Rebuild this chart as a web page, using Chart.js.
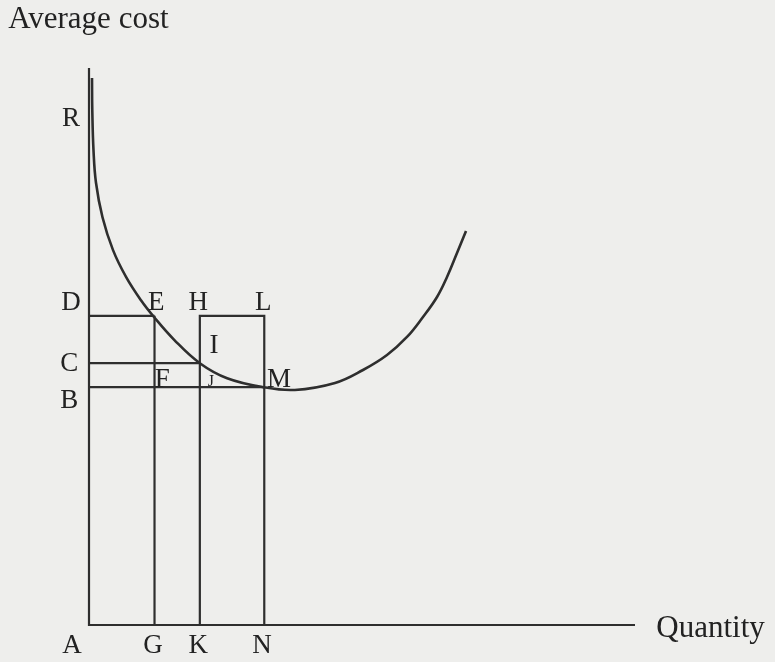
<!DOCTYPE html>
<html>
<head>
<meta charset="utf-8">
<script src="https://cdn.jsdelivr.net/npm/chart.js@4/dist/chart.umd.min.js"></script>
<style>
  html, body { margin: 0; padding: 0; background: #eeeeec; }
  canvas { display: block; }
</style>
</head>
<body>
<canvas id="grafico" width="775" height="662"></canvas>
<script>
(function() {
  // positions (axis units 0..100)
  const G = 12, K = 20.3, N = 32.1;   // quantities
  const D = 55.5, C = 47.0, B = 42.7; // cost levels

  // average cost curve
  const curvaX = [0.55, 0.6, 0.82, 1.28, 2.47, 4.4, 6.78, 9.52, 11.9, 15.6, 20.3, 25.3, 31.9, 37.7,
                  45.05, 50.18, 54.58, 58.24, 61.17, 63.74, 65.57, 67.4, 69.05];
  const curvaY = [98.2, 92.5, 85.3, 79.4, 73.2, 67.3, 62.5, 58.3, 55.3, 51.2, 47.0, 44.3, 42.7, 42.2,
                  43.45, 45.78, 48.47, 51.71, 55.3, 58.89, 62.48, 66.79, 70.74];

  // letters: [text, x, y]
  const letras = [
    ["R", -3.3, 89.6], ["D", -3.3, 56.6], ["C", -3.6, 45.6], ["B", -3.6, 39.0],
    ["A", -3.1, -5.0], ["G", 11.7, -5.0], ["K", 20.0, -5.0], ["N", 31.7, -5.0],
    ["E", 12.3, 56.6], ["H", 20.0, 56.6], ["L", 31.9, 56.6], ["I", 22.9, 48.8],
    ["F", 13.4, 42.7], ["M", 34.8, 42.7]
  ];

  const COR = "#2e2e2e";

  function segmento(pts, largura) {
    return {
      data: pts.map(p => ({ x: p[0], y: p[1] })),
      borderColor: COR,
      borderWidth: largura,
      pointRadius: 0,
      tension: 0,
      fill: false,
      clip: false
    };
  }

  const curva = {
    data: curvaX.map((x, i) => ({ x: x, y: curvaY[i] })),
    borderColor: COR,
    borderWidth: 2.6,
    pointRadius: 0,
    tension: 0.4,
    fill: false,
    clip: false
  };

  const datasets = [
    segmento([[0, 100], [0, 0], [100, 0]], 2.2),
    segmento([[0, D], [G, D]], 2.2),
    segmento([[0, C], [K, C]], 2.2),
    segmento([[0, B], [N, B]], 2.2),
    segmento([[G, 0], [G, D]], 2.2),
    segmento([[K, 0], [K, D], [N, D], [N, 0]], 2.2),
    curva
  ];

  const textos = {
    id: "textos",
    afterDraw(chart) {
      const ctx = chart.ctx;
      const sx = chart.scales.x, sy = chart.scales.y;
      ctx.save();
      ctx.fillStyle = "#222222";
      ctx.textBaseline = "alphabetic";
      ctx.textAlign = "center";
      ctx.font = "27px 'Liberation Serif', 'DejaVu Serif', serif";
      letras.forEach(function(l) {
        ctx.fillText(l[0], sx.getPixelForValue(l[1]), sy.getPixelForValue(l[2]));
      });
      ctx.font = "16px 'Liberation Serif', serif";
      ctx.fillText("J", sx.getPixelForValue(22.3), sy.getPixelForValue(42.9));
      ctx.textAlign = "left";
      ctx.font = "31px 'Liberation Serif', 'DejaVu Serif', serif";
      ctx.fillText("Average cost", sx.getPixelForValue(-14.8), sy.getPixelForValue(107.2));
      ctx.fillText("Quantity", sx.getPixelForValue(103.9), sy.getPixelForValue(-2.2));
      ctx.restore();
    }
  };

  new Chart(document.getElementById("grafico"), {
    type: "line",
    data: { datasets: datasets },
    options: {
      responsive: false,
      animation: false,
      devicePixelRatio: 1,
      layout: { padding: { left: 89, right: 140, top: 68, bottom: 37 } },
      scales: {
        x: { type: "linear", min: 0, max: 100, display: false },
        y: { type: "linear", min: 0, max: 100, display: false }
      },
      plugins: { legend: { display: false }, tooltip: { enabled: false } }
    },
    plugins: [textos]
  });
})();
</script>
</body>
</html>
